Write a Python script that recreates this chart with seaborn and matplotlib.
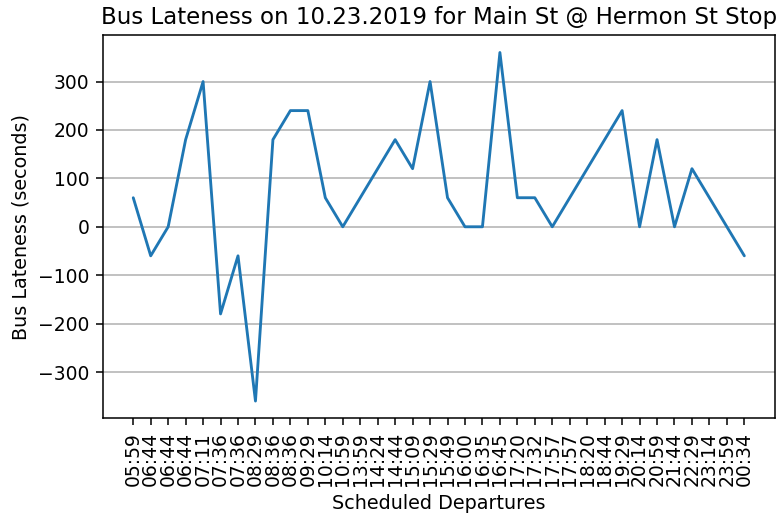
import pandas as pd
import matplotlib
matplotlib.use('Agg')
import matplotlib.pyplot as plt
import seaborn as sns

# Scheduled departure times (tick labels) and lateness in seconds
departures = ['05:59', '06:44', '06:44', '06:44', '07:11', '07:36', '07:36', '08:29',
              '08:36', '08:36', '09:29', '10:14', '10:59', '13:59', '14:24', '14:44',
              '15:09', '15:29', '15:49', '16:00', '16:35', '16:45', '17:20', '17:32',
              '17:57', '17:57', '18:20', '18:44', '19:29', '20:14', '20:59', '21:44',
              '22:29', '23:14', '23:59', '00:34']
lateness = [60, -60, 0, 180, 300, -180, -60, -360,
            180, 240, 240, 60, 0, 60, 120, 180,
            120, 300, 60, 0, 0, 360, 60, 60,
            0, 60, 120, 180, 240, 0, 180, 0,
            120, 60, 0, -60]

df = pd.DataFrame({'stop_idx': range(len(departures)), 'lateness': lateness})

sns.set_style('ticks', {'text.color': 'black', 'axes.labelcolor': 'black',
                        'xtick.color': 'black', 'ytick.color': 'black',
                        'axes.edgecolor': 'black'})
plt.rcParams['font.family'] = ['DejaVu Sans']

fig, ax = plt.subplots(figsize=(7.78, 5.16), dpi=100)
sns.lineplot(data=df, x='stop_idx', y='lateness', ax=ax, color='#1f77b4',
             linewidth=2.05, sort=False)

ax.set_xticks(df['stop_idx'])
ax.set_xticklabels(departures, rotation=90)
ax.tick_params(axis='both', labelsize=13.5, direction='out', length=4.8, width=1.1,
               color='black', labelcolor='black', pad=4.8)
ax.yaxis.grid(True, color='#b0b0b0', linewidth=1.1)
ax.set_axisbelow(True)
for s in ax.spines.values():
    s.set_visible(True)
    s.set_color('black')
    s.set_linewidth(1.1)

ax.set_xlabel('Scheduled Departures', fontsize=13.75, color='black', labelpad=5.5)
ax.set_ylabel('Bus Lateness (seconds)', fontsize=13.75, color='black', labelpad=5.5)
ax.set_title('Bus Lateness on 10.23.2019 for Main St @ Hermon St Stop', fontsize=16.5,
             color='black', pad=8)

plt.subplots_adjust(left=0.132, right=0.996, top=0.932, bottom=0.189)
plt.savefig('out.png', dpi=100)
